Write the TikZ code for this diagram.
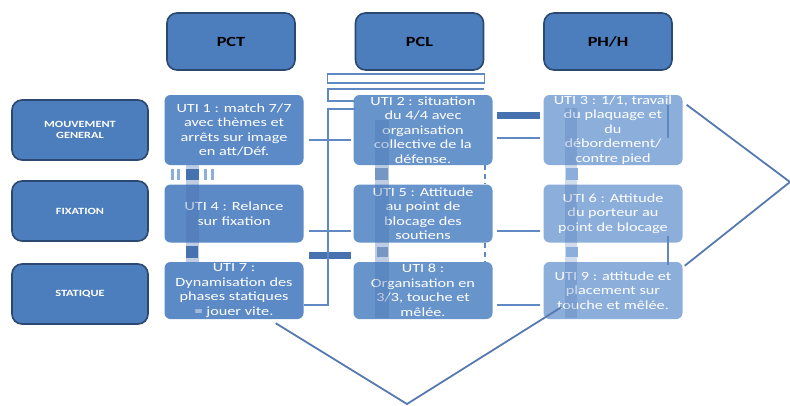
\documentclass[tikz,border=0pt]{standalone}
\usepackage{fontspec}
\setmainfont[FakeStretch=1.3]{Carlito}
\usetikzlibrary{calc}
\definecolor{hdrfill}{RGB}{76,125,188}
\definecolor{hdrline}{RGB}{42,72,112}
\definecolor{ufillA}{RGB}{92,138,198}
\definecolor{ufillB}{RGB}{104,148,204}
\definecolor{ufillC}{RGB}{140,174,219}
\definecolor{lnc}{RGB}{96,136,194}
\definecolor{barc}{RGB}{70,114,176}
\tikzset{
  hdr/.style={draw=hdrline, line width=1.6pt, fill=hdrfill, rounded corners=10pt,
    minimum width=128pt, minimum height=57pt, inner sep=0pt,
    font=\bfseries\fontsize{14}{16}\selectfont, text=black},
  rowlab/.style={draw=hdrline, line width=1.6pt, fill=hdrfill, rounded corners=10pt,
    minimum width=136pt, minimum height=60pt, inner sep=0pt, align=center,
    font=\bfseries\fontsize{9.5}{10.5}\selectfont, text=white},
  uti/.style={rounded corners=6pt, minimum width=139pt, minimum height=70pt,
    inner sep=0pt, align=center, text=white, font=\fontsize{12.5}{14.5}\selectfont},
  utiA/.style={uti, fill=ufillA},
  utiB/.style={uti, fill=ufillB},
  utiC/.style={uti, fill=ufillC},
  conn/.style={draw=lnc, line width=2pt},
  thick bar/.style={draw=barc, line width=7pt},
  dia/.style={draw=lnc!90!black, line width=1.8pt},
  sq/.style={fill=barc},
  sqlight/.style={fill=ufillC},
  stripe/.style={fill=barc, fill opacity=0.35},
}
\begin{document}
\begin{tikzpicture}[x=1pt,y=-1pt]
\useasboundingbox (0,0) rectangle (790,405);
\fill[white] (0,0) rectangle (790,405);

% headers
\node[hdr] (h1) at (231,41.5) {PCT};
\node[hdr] (h2) at (419.5,41.5) {PCL};
\node[hdr] (h3) at (608,41.5) {PH/H};

% row labels
\node[rowlab] (r1) at (80,130) {MOUVEMENT\\GENERAL};
\node[rowlab] (r2) at (80,211) {FIXATION};
\node[rowlab] (r3) at (80,294) {STATIQUE};

% UTI boxes
\node[utiA] (u1) at (234,130) {UTI 1 : match 7/7\\avec thèmes et\\arrêts sur image\\en att/Déf.};
\node[utiB] (u2) at (423,130) {UTI 2 : situation\\du 4/4 avec\\organisation\\collective de la\\défense.};
\node[utiC] (u3) at (613,130) {UTI 3 : 1/1, travail\\du plaquage et\\du\\débordement/\\contre pied};
\node[utiA, minimum height=58pt] (u4) at (234,213.5) {UTI 4 : Relance\\sur fixation};
\node[utiB, minimum height=58pt] (u5) at (423,213.5) {UTI 5 : Attitude\\au point de\\blocage des\\soutiens};
\node[utiC, minimum height=58pt] (u6) at (613,213.5) {UTI 6 : Attitude\\du porteur au\\point de blocage};
\node[utiA, minimum height=57pt] (u7) at (234,290.5) {UTI 7 :\\Dynamisation des\\phases statiques\\= jouer vite.};
\node[utiB, minimum height=57pt] (u8) at (423,290.5) {UTI 8 :\\Organisation en\\3/3, touche et\\mêlée.};
\node[utiC, minimum height=57pt] (u9) at (613,290.5) {UTI 9 : attitude et\\placement sur\\touche et mêlée.};

% translucent vertical stripes
\fill[stripe] (186,165) rectangle (199,262);
\fill[stripe] (375,120) rectangle (389,318);
\fill[stripe, fill opacity=0.25] (565,108) rectangle (577,318);

% small squares and stubs between rows
\fill[sq] (186,169) rectangle (199,180);
\fill[sqlight] (171,169) rectangle (174,180);
\fill[sqlight] (177,169) rectangle (180,180);
\fill[sqlight] (204,169) rectangle (207,180);
\fill[sqlight] (211,169) rectangle (214,180);
\fill[sq] (186,246) rectangle (198,258);
\fill[sq, fill opacity=0.6] (375,168) rectangle (388,180);
\fill[sq, fill opacity=0.6] (377,247) rectangle (388,257);
\fill[sqlight] (566,168) rectangle (578,180);
\fill[sqlight] (566,247) rectangle (578,257);
\draw[conn, dash pattern=on 5pt off 4pt] ($(u2.south east)+(-8,0)$) -- ($(u5.north east)+(-8,0)$);
\draw[conn, dash pattern=on 5pt off 4pt] ($(u5.south east)+(-8,0)$) -- ($(u8.north east)+(-8,0)$);
\draw[conn] ($(u6.south east)+(-15,-7)$) -- ($(u9.north east)+(-15,3)$);
\draw[conn] ($(u3.north east)+(-15,10)$) -- ($(u3.north east)+(-15,43)$);

% horizontal connectors
\draw[conn] ($(u1.east)+(5,10)$) -- ($(u2.west)+(-2,10)$);
\draw[thick bar] ($(u2.east)+(4,-15)$) -- ($(u3.west)+(-3,-15)$);
\draw[conn] ($(u2.east)+(4,8)$) -- ($(u3.west)+(-3,8)$);
\draw[conn] ($(u4.east)+(5,17.5)$) -- ($(u5.west)+(-2,17.5)$);
\draw[conn] ($(u5.east)+(4,17.5)$) -- ($(u6.west)+(-3,17.5)$);
\draw[thick bar] ($(u7.east)+(5,-35.5)$) -- ($(u8.west)+(-2,-35.5)$);
\draw[conn] ($(u8.east)+(4,14.5)$) -- ($(u9.west)+(-3,14.5)$);

% frame lines near PCL
\coordinate (fa) at ($(h2.south west)+(-27,3)$);
\coordinate (fb) at ($(h2.south east)+(0,12)$);
\draw[lnc, line width=1.5pt] (fa) rectangle (fb);
\coordinate (fc) at ($(h2.south west)+(-27,18)$);
\draw[conn] ($(h2.south east)+(0,18)$) -- (fc) -- ++(0,12) -- ++(27,0);
\coordinate (fd) at ($(u7.east)+(24,14.5)$);
\draw[conn] ($(u7.east)+(0,14.5)$) -- (fd) -- ($(h2.south west)+(-27,38)$) -- ++(27,0);

% diamond outline
\coordinate (dright) at (790,182);
\coordinate (dbottom) at (407,404);
\draw[dia] ($(u3.north east)+(4,10)$) -- (dright) -- ($(u9.north east)+(2,4)$);
\draw[dia] ($(u7.south east)+(-28,4)$) -- (dbottom) -- ($(u9.south west)+(18,-12)$);
\end{tikzpicture}
\end{document}
